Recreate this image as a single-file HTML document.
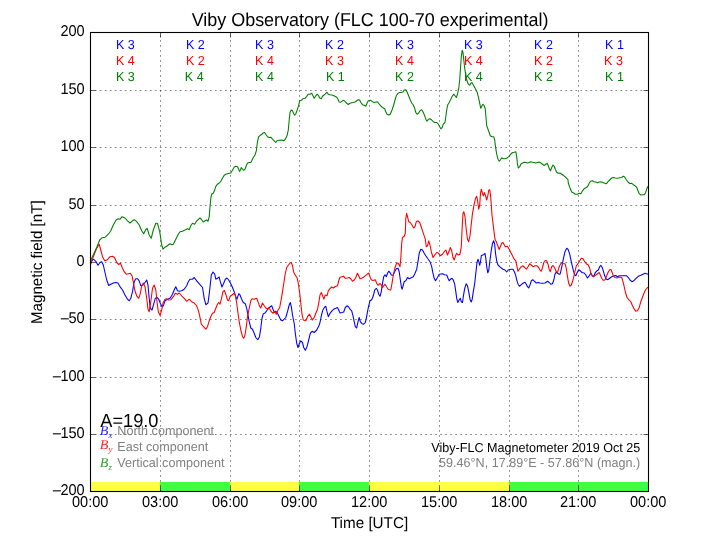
<!DOCTYPE html>
<html lang="en"><head><meta charset="utf-8"><title>Viby Observatory (FLC 100-70 experimental)</title>
<style>html,body{margin:0;padding:0;background:#fff}body{width:720px;height:540px;overflow:hidden}svg{display:block}text{font-family:"Liberation Sans",Arial,Helvetica,sans-serif;fill:#000;text-rendering:geometricPrecision}.m{font-family:"Liberation Serif","DejaVu Serif",serif;font-style:italic}</style></head><body>
<svg width="720" height="540" viewBox="0 0 720 540">
<rect width="720" height="540" fill="#fff"/>
<g shape-rendering="crispEdges">
<rect x="90.0" y="482" width="70.0" height="9.5" fill="#ffff40"/>
<rect x="160.0" y="482" width="70.0" height="9.5" fill="#40ff40"/>
<rect x="230.0" y="482" width="69.0" height="9.5" fill="#ffff40"/>
<rect x="299.0" y="482" width="70.0" height="9.5" fill="#40ff40"/>
<rect x="369.0" y="482" width="70.0" height="9.5" fill="#ffff40"/>
<rect x="439.0" y="482" width="70.0" height="9.5" fill="#ffff40"/>
<rect x="509.0" y="482" width="69.0" height="9.5" fill="#40ff40"/>
<rect x="578.0" y="482" width="70.0" height="9.5" fill="#40ff40"/>
</g>
<g stroke="#000" stroke-width="0.48" fill="none">
<g stroke-dasharray="1.7 3.3">
<line x1="160.5" y1="491.8" x2="160.5" y2="32.5"/>
<line x1="230.5" y1="491.8" x2="230.5" y2="32.5"/>
<line x1="299.5" y1="491.8" x2="299.5" y2="32.5"/>
<line x1="369.5" y1="491.8" x2="369.5" y2="32.5"/>
<line x1="439.5" y1="491.8" x2="439.5" y2="32.5"/>
<line x1="509.5" y1="491.8" x2="509.5" y2="32.5"/>
<line x1="578.5" y1="491.8" x2="578.5" y2="32.5"/>
</g><g stroke-dasharray="1.7 3.306">
<line x1="89.8" y1="90.5" x2="648.5" y2="90.5"/>
<line x1="89.8" y1="147.5" x2="648.5" y2="147.5"/>
<line x1="89.8" y1="205.5" x2="648.5" y2="205.5"/>
<line x1="89.8" y1="262.5" x2="648.5" y2="262.5"/>
<line x1="89.8" y1="319.5" x2="648.5" y2="319.5"/>
<line x1="89.8" y1="377.5" x2="648.5" y2="377.5"/>
<line x1="89.8" y1="434.5" x2="648.5" y2="434.5"/>
</g></g>
<g fill="none" stroke-width="1.08" stroke-linejoin="round" stroke-linecap="butt">
<path stroke="#0000ff" d="M90.5,262.5 L93.3,259.2 L95.8,261.3 L98.0,265.3 L100.0,262.5 L101.7,261.7 L103.3,265.0 L105.0,272.5 L106.7,280.0 L108.7,285.5 L110.8,284.2 L113.3,283.0 L115.8,282.5 L118.0,283.0 L120.0,286.7 L122.5,290.0 L125.0,295.0 L127.5,299.2 L129.2,300.8 L130.8,298.3 L132.5,291.7 L134.2,281.7 L135.8,278.7 L137.5,278.7 L139.2,280.8 L140.8,285.8 L143.0,285.0 L145.0,282.5 L146.7,280.0 L148.0,285.0 L149.2,298.3 L150.3,308.3 L152.0,310.0 L153.7,304.2 L155.3,298.3 L157.0,297.5 L158.7,299.2 L160.3,303.3 L162.0,306.7 L163.3,305.8 L165.0,300.8 L167.5,299.2 L170.0,298.3 L172.5,294.2 L174.5,289.2 L175.8,286.7 L177.5,290.8 L179.2,291.3 L181.7,290.8 L184.2,289.2 L186.7,285.8 L188.3,281.7 L190.0,279.2 L192.5,279.2 L194.2,277.5 L196.7,280.8 L200.0,284.7 L202.5,287.5 L204.2,298.3 L205.8,304.7 L208.0,303.0 L209.7,290.0 L211.3,275.0 L213.0,272.0 L214.7,274.2 L215.8,279.2 L217.5,278.3 L219.2,277.0 L220.3,281.7 L222.0,287.0 L223.7,283.3 L225.3,279.2 L227.0,278.0 L228.7,280.0 L230.8,283.7 L232.5,287.5 L234.2,291.7 L235.8,296.7 L237.0,299.2 L238.7,293.7 L240.0,295.0 L241.7,299.2 L243.3,302.5 L245.3,303.7 L246.7,308.3 L248.0,315.0 L249.2,321.7 L250.8,328.0 L252.5,329.2 L254.2,333.3 L255.8,337.5 L257.8,339.7 L259.5,336.7 L260.8,328.3 L262.0,318.3 L263.3,313.7 L265.0,313.0 L266.7,310.8 L268.3,308.0 L270.0,307.0 L271.7,305.8 L273.0,309.2 L274.2,311.7 L275.8,311.3 L277.5,313.3 L279.2,316.7 L280.8,320.0 L282.5,320.8 L284.2,319.2 L285.8,317.5 L287.5,311.7 L289.2,305.0 L290.3,302.5 L291.3,306.7 L292.5,315.0 L294.2,323.3 L295.3,333.3 L296.7,343.3 L298.0,347.5 L299.5,343.3 L300.8,340.8 L302.5,342.5 L303.7,347.5 L305.3,350.3 L307.0,346.7 L308.7,340.0 L310.3,333.3 L312.0,331.3 L314.2,332.5 L316.7,330.0 L318.7,326.3 L320.0,322.5 L320.5,320.0 L321.7,314.2 L323.0,309.7 L324.7,307.0 L325.8,306.3 L327.0,311.7 L328.3,316.7 L330.0,313.3 L332.0,310.8 L333.7,309.2 L335.8,308.3 L337.5,307.5 L338.7,310.0 L340.0,313.0 L342.0,312.5 L343.7,312.0 L345.3,307.5 L347.0,305.8 L348.7,307.0 L350.0,309.2 L351.7,310.8 L353.0,315.8 L354.2,321.7 L355.3,326.7 L356.7,328.0 L358.0,321.7 L359.2,317.5 L360.3,321.7 L362.0,323.7 L363.7,324.2 L365.3,322.5 L366.3,318.3 L367.5,311.7 L368.7,305.8 L370.0,300.8 L371.7,299.7 L373.3,295.8 L374.7,290.0 L376.3,288.3 L377.5,290.0 L378.7,294.2 L380.0,296.3 L381.3,291.7 L382.5,283.3 L383.7,276.7 L385.0,274.7 L386.3,276.7 L387.5,273.3 L388.7,271.2 L390.0,272.5 L391.3,275.0 L393.0,275.3 L394.7,271.7 L396.3,268.7 L398.0,268.3 L399.2,271.7 L400.0,277.5 L401.3,286.7 L402.2,289.2 L403.3,285.0 L404.2,281.7 L405.8,280.8 L407.5,277.5 L409.2,278.7 L411.7,277.5 L413.3,276.7 L415.0,273.3 L416.7,269.2 L418.0,261.7 L419.2,253.3 L420.8,249.2 L422.5,250.0 L424.2,253.3 L425.8,255.8 L427.5,258.3 L430.0,261.7 L431.7,266.7 L433.0,273.3 L434.2,278.3 L435.5,280.8 L437.5,277.5 L439.2,274.2 L442.5,273.7 L444.7,274.7 L446.7,275.0 L448.0,278.3 L449.2,280.8 L450.5,279.2 L452.0,278.3 L453.3,280.0 L454.7,284.2 L455.8,291.7 L456.7,298.3 L457.8,302.5 L459.2,300.0 L460.3,298.3 L461.3,301.7 L462.5,302.5 L463.3,296.7 L464.7,288.3 L466.2,283.7 L467.5,285.8 L468.7,291.7 L470.0,299.2 L471.2,302.0 L472.2,299.2 L473.3,291.7 L474.7,283.3 L475.8,273.3 L477.0,262.5 L478.0,259.2 L478.8,261.7 L479.7,265.3 L480.5,261.7 L481.3,255.8 L482.5,255.0 L483.7,254.7 L485.0,253.3 L485.8,258.3 L486.7,266.7 L487.8,272.8 L488.8,270.0 L490.0,260.0 L491.2,250.8 L492.5,243.3 L493.7,240.8 L494.7,244.2 L495.5,253.3 L496.7,260.8 L498.0,265.0 L499.7,266.7 L501.3,268.0 L503.0,269.2 L505.0,270.0 L506.7,272.0 L508.3,270.0 L510.8,269.2 L513.0,269.2 L514.7,272.5 L515.8,275.8 L517.0,280.8 L518.3,284.7 L519.5,286.3 L521.3,284.7 L523.3,283.0 L525.0,282.2 L526.3,284.2 L527.5,286.7 L528.7,288.0 L530.0,285.0 L531.3,280.8 L532.8,279.7 L534.5,281.3 L536.3,283.0 L538.3,282.5 L540.0,283.0 L542.5,283.3 L545.0,283.0 L547.5,281.3 L549.2,282.5 L550.8,284.2 L552.5,283.7 L553.8,280.0 L555.0,274.2 L556.2,272.0 L557.5,273.3 L559.2,274.2 L560.0,274.2 L560.5,272.5 L562.0,265.8 L563.3,259.2 L565.0,251.7 L566.7,248.3 L568.0,249.2 L569.7,254.2 L571.3,261.7 L573.0,269.2 L574.7,275.0 L575.8,275.8 L577.2,272.5 L578.7,269.7 L580.3,270.8 L582.0,272.5 L584.2,273.0 L585.8,275.0 L587.5,278.0 L589.2,275.8 L590.8,273.3 L592.5,275.8 L593.7,276.7 L595.3,272.5 L597.0,270.8 L598.3,270.0 L599.7,266.7 L600.8,265.3 L602.2,267.5 L603.3,270.8 L604.7,275.8 L606.3,279.2 L608.0,279.7 L610.0,278.0 L611.7,276.7 L614.2,275.8 L615.8,275.5 L617.5,276.7 L619.2,275.8 L621.7,275.8 L624.2,275.8 L626.7,275.8 L628.3,277.5 L630.0,280.0 L632.0,281.7 L633.7,280.8 L635.8,278.7 L638.3,276.3 L640.8,275.3 L643.0,274.2 L645.0,273.3 L648.0,274.2"/>
<path stroke="#ff0000" d="M90.5,265.0 L93.3,256.7 L96.7,248.3 L99.2,244.2 L100.8,250.0 L102.5,256.7 L104.7,260.8 L107.5,259.7 L110.0,256.7 L112.5,256.3 L114.5,257.5 L116.7,262.5 L118.7,264.5 L120.5,263.3 L122.2,267.5 L124.2,271.7 L126.2,274.2 L128.3,273.8 L130.3,273.3 L132.0,275.8 L133.3,281.7 L134.7,290.0 L136.7,295.8 L138.7,298.3 L140.3,293.3 L141.7,285.8 L143.3,283.0 L145.0,286.7 L146.7,298.3 L148.0,309.2 L149.2,311.7 L150.8,301.7 L152.5,288.3 L154.2,285.0 L155.8,290.0 L157.0,301.7 L158.3,311.7 L160.0,315.3 L161.7,310.0 L163.0,303.3 L165.0,299.2 L166.7,298.7 L168.3,300.0 L170.8,299.7 L173.3,296.7 L175.3,293.3 L177.5,294.2 L179.2,293.0 L181.7,295.8 L184.2,298.3 L186.7,301.3 L189.2,299.2 L191.7,301.7 L194.2,303.0 L196.7,305.8 L198.7,311.7 L200.0,317.5 L201.3,324.2 L203.3,326.3 L205.8,329.2 L207.5,326.7 L209.2,320.8 L210.8,316.7 L212.5,313.3 L214.2,312.5 L215.8,308.3 L217.5,304.2 L218.7,302.5 L220.0,304.2 L221.3,299.2 L223.0,291.7 L224.3,290.3 L225.8,294.2 L227.5,300.0 L228.7,300.8 L230.0,296.7 L232.0,295.0 L234.2,293.3 L235.5,295.8 L236.7,303.3 L238.0,313.3 L239.2,321.7 L240.8,330.0 L242.5,336.7 L243.7,338.3 L245.0,335.0 L246.3,326.7 L247.5,316.7 L249.2,308.3 L250.8,300.8 L252.0,298.8 L254.2,299.2 L256.7,298.3 L258.0,301.7 L259.7,306.7 L260.8,308.0 L262.5,303.0 L264.2,305.8 L265.8,308.0 L267.5,308.7 L269.7,308.7 L271.3,311.7 L273.0,313.3 L274.7,311.3 L276.3,314.2 L278.0,310.0 L279.7,307.5 L281.7,296.7 L283.3,286.7 L285.0,275.0 L286.7,267.5 L288.3,265.3 L290.0,263.0 L291.3,262.5 L292.5,265.8 L293.8,272.5 L295.3,275.3 L297.0,277.5 L298.3,283.3 L299.7,293.3 L300.8,303.3 L302.0,314.2 L303.3,320.0 L305.8,320.8 L307.5,316.7 L309.5,314.2 L310.8,316.7 L312.5,320.0 L314.2,317.5 L315.8,313.3 L317.5,309.2 L318.7,303.3 L320.0,295.0 L321.3,292.5 L322.7,295.8 L323.8,299.2 L325.3,295.0 L327.0,295.8 L328.3,290.8 L330.0,288.7 L331.7,287.0 L333.3,288.0 L335.0,286.7 L337.5,285.8 L338.7,280.8 L340.0,277.2 L342.0,276.7 L343.7,276.3 L345.3,278.3 L347.5,278.0 L349.2,277.5 L350.8,278.7 L352.5,281.2 L354.2,280.0 L355.8,277.5 L357.5,273.3 L358.7,275.8 L360.0,278.7 L361.7,278.3 L364.2,276.7 L366.7,274.7 L368.8,273.0 L370.0,276.7 L371.3,279.7 L373.0,280.5 L375.3,279.7 L376.7,283.3 L378.0,285.3 L380.0,283.3 L381.3,285.0 L382.5,287.5 L383.7,285.8 L385.0,284.2 L386.7,287.0 L388.3,289.5 L390.8,290.0 L392.0,283.3 L393.3,275.0 L395.0,267.5 L396.7,263.0 L398.3,263.3 L400.0,266.7 L400.8,258.3 L401.7,243.3 L402.5,237.5 L404.2,236.3 L405.3,233.3 L405.8,218.3 L406.7,213.3 L407.5,216.7 L408.7,221.7 L410.3,222.5 L412.0,225.0 L413.7,228.0 L415.0,226.7 L416.3,221.7 L418.0,220.8 L419.7,222.5 L421.2,226.7 L422.5,230.8 L424.2,235.8 L425.3,239.2 L426.3,246.7 L427.5,245.8 L428.7,240.8 L430.0,245.0 L431.3,251.7 L433.0,257.5 L434.7,255.0 L436.7,252.5 L438.7,253.3 L440.3,255.8 L442.5,254.2 L444.2,251.7 L445.8,250.0 L447.5,255.0 L449.2,250.8 L450.3,247.5 L451.7,250.8 L453.0,257.5 L454.2,260.0 L455.5,255.8 L456.7,253.3 L458.3,255.0 L460.0,254.2 L461.3,246.7 L462.2,226.7 L463.0,213.3 L463.8,211.7 L465.0,216.7 L466.3,230.0 L467.5,239.2 L468.7,241.7 L470.0,235.8 L471.2,225.0 L472.5,213.3 L474.2,204.2 L475.5,198.3 L476.7,196.3 L477.7,201.7 L478.7,209.2 L479.7,205.0 L480.5,193.3 L481.3,189.2 L482.5,193.3 L483.3,195.8 L484.3,192.5 L485.3,195.0 L486.7,200.0 L487.8,195.8 L488.8,190.0 L489.7,189.7 L490.5,195.0 L491.3,205.0 L492.0,215.0 L493.0,223.3 L494.2,233.3 L495.0,239.2 L496.3,241.7 L497.5,245.0 L499.2,249.5 L500.3,246.7 L501.7,243.3 L503.0,242.5 L504.2,244.7 L505.3,246.7 L507.5,246.3 L509.2,249.2 L510.8,252.5 L512.5,255.8 L514.2,259.2 L515.8,260.8 L517.0,266.7 L518.0,271.3 L519.7,268.7 L521.3,266.7 L523.0,265.8 L524.7,267.5 L526.3,269.2 L528.0,266.7 L529.7,263.8 L531.3,265.0 L533.0,266.7 L535.0,265.8 L537.0,265.8 L538.7,267.5 L540.0,270.0 L541.2,271.3 L542.5,267.5 L543.8,262.5 L545.3,260.5 L546.7,260.8 L548.0,264.2 L549.2,269.2 L550.3,271.7 L551.7,266.7 L553.0,265.5 L554.7,268.0 L556.3,271.7 L557.5,272.5 L558.7,268.3 L560.0,265.0 L561.3,263.0 L563.0,263.7 L565.0,263.7 L566.3,268.3 L567.5,276.7 L568.7,283.3 L570.0,286.2 L571.3,285.0 L573.0,280.0 L574.7,272.5 L576.3,265.8 L578.0,263.7 L579.7,260.8 L581.3,258.3 L583.0,258.8 L584.7,261.7 L586.3,263.7 L588.3,265.0 L589.7,268.3 L590.8,273.3 L592.0,275.8 L593.7,276.3 L595.8,275.0 L597.5,273.7 L599.2,272.5 L600.3,275.0 L601.7,278.3 L603.0,280.3 L605.0,280.0 L606.3,276.7 L608.0,272.5 L609.7,269.7 L611.0,269.5 L612.2,272.5 L613.3,275.8 L615.0,277.5 L617.0,278.0 L619.2,277.0 L621.7,277.5 L622.8,280.8 L624.2,286.7 L625.5,292.5 L627.0,297.5 L628.7,299.7 L630.8,301.7 L632.5,305.8 L634.2,309.2 L635.8,311.2 L637.5,310.8 L639.2,307.5 L640.8,301.7 L643.0,295.8 L645.0,290.8 L646.7,288.3 L648.0,287.2"/>
<path stroke="#008000" d="M90.5,262.0 L91.0,259.7 L96.7,247.5 L99.7,240.0 L102.2,237.7 L105.0,237.3 L108.3,234.2 L110.8,230.8 L113.3,225.0 L116.3,219.7 L118.3,218.7 L120.0,219.3 L122.0,216.7 L125.0,218.0 L127.5,220.8 L130.0,223.0 L132.5,220.8 L134.2,219.7 L136.7,221.7 L139.2,225.0 L141.7,230.8 L143.7,233.7 L145.5,230.0 L147.2,228.3 L149.2,235.0 L151.2,238.3 L153.3,230.0 L155.8,223.3 L157.5,223.3 L159.7,231.7 L161.7,245.0 L163.0,249.2 L165.0,247.2 L166.7,246.2 L168.3,245.0 L170.0,243.7 L172.0,244.7 L173.3,244.2 L175.8,239.2 L178.3,234.2 L180.0,231.7 L182.5,231.2 L185.0,230.0 L187.5,228.7 L189.2,229.7 L190.8,225.8 L192.5,223.3 L194.7,224.2 L196.7,220.8 L200.0,218.0 L201.7,219.7 L203.3,222.0 L205.0,220.8 L206.7,220.0 L208.0,221.3 L209.2,216.7 L210.0,206.7 L210.8,198.3 L211.7,194.2 L213.3,193.3 L214.7,190.0 L215.8,186.3 L217.5,184.2 L219.2,183.0 L220.8,181.3 L222.5,178.3 L224.2,175.3 L225.8,174.2 L227.5,173.7 L229.2,173.3 L230.8,173.0 L232.5,170.3 L234.2,167.0 L235.8,166.3 L237.5,166.7 L238.3,168.3 L239.5,171.3 L240.5,170.0 L241.3,167.5 L242.5,169.2 L243.7,170.3 L245.0,169.2 L246.3,165.8 L247.5,163.0 L249.2,162.5 L250.8,162.5 L252.0,160.3 L253.3,157.5 L255.0,155.0 L256.3,150.8 L257.5,141.7 L258.7,136.7 L260.3,135.3 L262.0,134.2 L263.3,132.8 L264.7,132.5 L265.8,134.2 L267.5,136.7 L269.2,137.5 L270.8,137.2 L272.5,139.2 L274.2,140.8 L275.8,142.5 L277.0,140.8 L279.2,140.3 L281.7,140.0 L283.8,140.8 L285.3,139.2 L287.0,135.8 L288.3,130.0 L289.2,120.0 L290.0,112.5 L291.2,110.0 L292.5,110.8 L293.7,113.7 L294.7,115.3 L295.8,113.7 L297.2,110.0 L298.3,106.7 L299.7,100.8 L301.3,100.3 L303.0,98.7 L305.0,98.3 L306.7,96.3 L308.3,94.2 L310.0,94.2 L311.7,93.3 L313.0,95.8 L314.2,98.3 L315.8,95.8 L317.2,94.2 L318.3,95.3 L319.7,98.0 L321.3,98.7 L322.5,96.3 L324.2,95.0 L325.8,93.3 L327.0,92.2 L328.3,94.2 L330.0,94.7 L331.7,95.0 L333.3,95.5 L335.0,96.3 L336.7,97.2 L338.0,99.2 L339.2,102.0 L340.8,102.2 L342.5,100.8 L343.8,100.3 L345.0,101.3 L346.7,103.3 L348.3,104.5 L350.0,103.3 L351.7,102.8 L353.3,102.5 L355.0,102.0 L356.7,100.8 L358.3,99.7 L359.7,100.0 L360.8,102.5 L362.5,104.7 L364.2,105.3 L365.8,106.3 L367.0,103.3 L368.3,100.8 L370.0,100.5 L370.8,100.3 L372.5,101.7 L374.2,102.5 L375.8,102.0 L377.5,101.7 L379.2,104.2 L380.8,105.8 L382.5,107.5 L384.7,108.7 L385.8,111.7 L387.0,114.2 L388.7,115.0 L390.3,114.2 L392.0,110.0 L393.7,105.0 L395.0,100.0 L396.3,95.8 L398.0,93.3 L399.7,92.5 L401.3,92.5 L403.0,92.0 L404.2,90.0 L405.8,89.7 L407.0,91.7 L408.3,95.0 L410.0,99.2 L411.7,103.0 L413.3,105.0 L414.7,108.3 L415.8,112.5 L417.0,114.2 L418.7,113.0 L420.0,110.8 L421.7,109.7 L423.0,111.7 L424.7,115.8 L425.8,119.2 L427.0,121.3 L428.3,119.2 L430.0,118.7 L431.7,120.0 L433.3,121.7 L435.0,122.5 L436.7,122.5 L438.3,124.2 L439.7,126.7 L440.8,128.8 L442.2,127.5 L443.3,124.2 L445.0,122.5 L445.8,116.7 L446.7,110.0 L447.8,104.7 L449.2,102.5 L450.8,99.2 L452.5,95.8 L453.8,94.2 L455.0,95.8 L456.3,97.5 L457.5,94.2 L458.7,88.3 L459.7,80.0 L460.5,68.3 L461.3,56.7 L462.2,50.3 L463.0,52.5 L463.8,60.0 L464.7,68.3 L465.8,75.0 L467.0,80.8 L468.3,84.2 L469.7,85.3 L470.8,83.3 L472.0,82.5 L473.3,85.0 L475.0,88.0 L476.3,90.3 L477.5,93.3 L478.7,98.3 L479.7,103.3 L480.8,108.3 L482.0,105.8 L483.0,104.2 L484.2,105.8 L485.3,109.2 L486.7,125.8 L488.0,129.2 L489.2,132.5 L490.3,135.8 L492.0,136.7 L493.7,136.7 L494.7,140.0 L495.5,146.7 L496.7,154.2 L498.0,159.2 L499.2,161.3 L500.3,160.0 L501.7,157.8 L503.3,158.7 L505.0,158.8 L506.7,158.3 L508.7,156.7 L510.8,154.2 L512.5,152.5 L514.2,152.2 L515.8,151.7 L516.7,156.7 L517.5,164.2 L518.3,168.0 L519.7,166.7 L520.8,164.2 L522.5,163.0 L524.2,162.2 L525.8,162.5 L527.5,163.0 L529.2,162.5 L530.8,161.7 L532.5,162.2 L534.2,162.5 L535.8,163.0 L537.5,162.5 L539.2,162.0 L540.8,163.0 L542.5,164.2 L544.2,165.5 L545.8,164.2 L547.2,163.3 L548.3,165.8 L549.5,169.2 L550.5,170.8 L551.7,167.5 L553.0,165.0 L554.2,166.3 L555.3,169.2 L556.7,172.2 L558.3,173.3 L560.0,173.0 L561.7,174.2 L563.3,175.3 L565.0,176.7 L566.7,178.3 L568.0,179.7 L568.3,183.0 L570.0,188.0 L571.7,192.0 L573.7,193.0 L575.3,194.2 L577.5,194.2 L579.2,193.3 L580.8,193.7 L582.5,190.8 L584.2,188.7 L585.8,187.8 L587.5,186.7 L589.2,183.3 L590.5,181.2 L592.5,180.8 L594.2,181.7 L595.8,182.0 L597.5,182.8 L599.2,182.0 L600.8,181.7 L603.0,182.5 L604.7,183.3 L606.3,183.8 L608.0,181.7 L609.7,180.0 L611.7,178.0 L613.3,177.5 L615.3,178.0 L617.5,178.3 L619.7,177.8 L621.7,177.5 L623.3,176.2 L624.7,177.0 L626.3,179.7 L628.0,182.0 L629.7,183.7 L631.7,183.3 L633.3,184.7 L635.0,185.8 L636.7,187.2 L638.0,190.8 L639.2,193.7 L640.8,195.0 L642.5,194.7 L644.2,194.7 L645.5,193.0 L646.7,189.2 L647.8,186.3"/>
</g>
<g stroke="#000" stroke-width="0.6" fill="none">
<line x1="160.5" y1="491.5" x2="160.5" y2="486.5"/><line x1="160.5" y1="32.5" x2="160.5" y2="37.5"/>
<line x1="230.5" y1="491.5" x2="230.5" y2="486.5"/><line x1="230.5" y1="32.5" x2="230.5" y2="37.5"/>
<line x1="299.5" y1="491.5" x2="299.5" y2="486.5"/><line x1="299.5" y1="32.5" x2="299.5" y2="37.5"/>
<line x1="369.5" y1="491.5" x2="369.5" y2="486.5"/><line x1="369.5" y1="32.5" x2="369.5" y2="37.5"/>
<line x1="439.5" y1="491.5" x2="439.5" y2="486.5"/><line x1="439.5" y1="32.5" x2="439.5" y2="37.5"/>
<line x1="509.5" y1="491.5" x2="509.5" y2="486.5"/><line x1="509.5" y1="32.5" x2="509.5" y2="37.5"/>
<line x1="578.5" y1="491.5" x2="578.5" y2="486.5"/><line x1="578.5" y1="32.5" x2="578.5" y2="37.5"/>
<line x1="90.5" y1="90.5" x2="95.5" y2="90.5"/><line x1="648.5" y1="90.5" x2="643.5" y2="90.5"/>
<line x1="90.5" y1="147.5" x2="95.5" y2="147.5"/><line x1="648.5" y1="147.5" x2="643.5" y2="147.5"/>
<line x1="90.5" y1="205.5" x2="95.5" y2="205.5"/><line x1="648.5" y1="205.5" x2="643.5" y2="205.5"/>
<line x1="90.5" y1="262.5" x2="95.5" y2="262.5"/><line x1="648.5" y1="262.5" x2="643.5" y2="262.5"/>
<line x1="90.5" y1="319.5" x2="95.5" y2="319.5"/><line x1="648.5" y1="319.5" x2="643.5" y2="319.5"/>
<line x1="90.5" y1="377.5" x2="95.5" y2="377.5"/><line x1="648.5" y1="377.5" x2="643.5" y2="377.5"/>
<line x1="90.5" y1="434.5" x2="95.5" y2="434.5"/><line x1="648.5" y1="434.5" x2="643.5" y2="434.5"/>
</g>
<rect x="90.5" y="32.5" width="558.0" height="459.0" fill="none" stroke="#000" stroke-width="1.1"/>
<text transform="translate(370.00,26.40) scale(0.997,1.04)" font-size="18" text-anchor="middle">Viby Observatory (FLC 100-70 experimental)</text>
<text transform="translate(84.70,36.00) scale(0.97,1.04)" font-size="15" text-anchor="end">200</text>
<text transform="translate(84.70,94.00) scale(0.97,1.04)" font-size="15" text-anchor="end">150</text>
<text transform="translate(84.70,151.00) scale(0.97,1.04)" font-size="15" text-anchor="end">100</text>
<text transform="translate(84.70,209.00) scale(0.97,1.04)" font-size="15" text-anchor="end">50</text>
<text transform="translate(84.70,266.00) scale(0.97,1.04)" font-size="15" text-anchor="end">0</text>
<text transform="translate(84.70,323.00) scale(0.97,1.04)" font-size="15" text-anchor="end"><tspan dy="1" textLength="10" lengthAdjust="spacingAndGlyphs">−</tspan><tspan dy="-1" dx="-1.2">50</tspan></text>
<text transform="translate(84.70,381.00) scale(0.97,1.04)" font-size="15" text-anchor="end"><tspan dy="1" textLength="10" lengthAdjust="spacingAndGlyphs">−</tspan><tspan dy="-1" dx="-1.2">100</tspan></text>
<text transform="translate(84.70,438.00) scale(0.97,1.04)" font-size="15" text-anchor="end"><tspan dy="1" textLength="10" lengthAdjust="spacingAndGlyphs">−</tspan><tspan dy="-1" dx="-1.2">150</tspan></text>
<text transform="translate(84.70,495.00) scale(0.97,1.04)" font-size="15" text-anchor="end"><tspan dy="1" textLength="10" lengthAdjust="spacingAndGlyphs">−</tspan><tspan dy="-1" dx="-1.2">200</tspan></text>
<text transform="translate(90.20,507.00) scale(0.97,1.04)" font-size="15" text-anchor="middle">00:00</text>
<text transform="translate(160.20,507.00) scale(0.97,1.04)" font-size="15" text-anchor="middle">03:00</text>
<text transform="translate(230.20,507.00) scale(0.97,1.04)" font-size="15" text-anchor="middle">06:00</text>
<text transform="translate(299.20,507.00) scale(0.97,1.04)" font-size="15" text-anchor="middle">09:00</text>
<text transform="translate(369.20,507.00) scale(0.97,1.04)" font-size="15" text-anchor="middle">12:00</text>
<text transform="translate(439.20,507.00) scale(0.97,1.04)" font-size="15" text-anchor="middle">15:00</text>
<text transform="translate(509.20,507.00) scale(0.97,1.04)" font-size="15" text-anchor="middle">18:00</text>
<text transform="translate(578.20,507.00) scale(0.97,1.04)" font-size="15" text-anchor="middle">21:00</text>
<text transform="translate(648.20,507.00) scale(0.97,1.04)" font-size="15" text-anchor="middle">00:00</text>
<text transform="translate(369.50,527.50) scale(1.015,1.04)" font-size="15" text-anchor="middle">Time [UTC]</text>
<text transform="translate(41.80,262.20) rotate(-90) scale(1.01,1.04)" font-size="15" text-anchor="middle">Magnetic field [nT]</text>
<text transform="translate(125.33,48.50) scale(1.0,1.04)" font-size="12.5" text-anchor="middle" style="fill:#0000ff">K 3</text>
<text transform="translate(125.33,64.70) scale(1.0,1.04)" font-size="12.5" text-anchor="middle" style="fill:#ff0000">K 4</text>
<text transform="translate(125.33,80.50) scale(1.0,1.04)" font-size="12.5" text-anchor="middle" style="fill:#008000">K 3</text>
<text transform="translate(195.33,48.50) scale(1.0,1.04)" font-size="12.5" text-anchor="middle" style="fill:#0000ff">K 2</text>
<text transform="translate(195.33,64.70) scale(1.0,1.04)" font-size="12.5" text-anchor="middle" style="fill:#ff0000">K 2</text>
<text transform="translate(194.23,80.50) scale(1.0,1.04)" font-size="12.5" text-anchor="middle" style="fill:#008000">K 4</text>
<text transform="translate(264.44,48.50) scale(1.0,1.04)" font-size="12.5" text-anchor="middle" style="fill:#0000ff">K 3</text>
<text transform="translate(264.44,64.70) scale(1.0,1.04)" font-size="12.5" text-anchor="middle" style="fill:#ff0000">K 4</text>
<text transform="translate(264.44,80.50) scale(1.0,1.04)" font-size="12.5" text-anchor="middle" style="fill:#008000">K 4</text>
<text transform="translate(334.44,48.50) scale(1.0,1.04)" font-size="12.5" text-anchor="middle" style="fill:#0000ff">K 2</text>
<text transform="translate(334.44,64.70) scale(1.0,1.04)" font-size="12.5" text-anchor="middle" style="fill:#ff0000">K 3</text>
<text transform="translate(335.34,80.50) scale(1.0,1.04)" font-size="12.5" text-anchor="middle" style="fill:#008000">K 1</text>
<text transform="translate(404.44,48.50) scale(1.0,1.04)" font-size="12.5" text-anchor="middle" style="fill:#0000ff">K 3</text>
<text transform="translate(404.44,64.70) scale(1.0,1.04)" font-size="12.5" text-anchor="middle" style="fill:#ff0000">K 4</text>
<text transform="translate(404.44,80.50) scale(1.0,1.04)" font-size="12.5" text-anchor="middle" style="fill:#008000">K 2</text>
<text transform="translate(473.33,48.50) scale(1.0,1.04)" font-size="12.5" text-anchor="middle" style="fill:#0000ff">K 3</text>
<text transform="translate(473.33,64.70) scale(1.0,1.04)" font-size="12.5" text-anchor="middle" style="fill:#ff0000">K 4</text>
<text transform="translate(473.33,80.50) scale(1.0,1.04)" font-size="12.5" text-anchor="middle" style="fill:#008000">K 4</text>
<text transform="translate(543.44,48.50) scale(1.0,1.04)" font-size="12.5" text-anchor="middle" style="fill:#0000ff">K 2</text>
<text transform="translate(543.44,64.70) scale(1.0,1.04)" font-size="12.5" text-anchor="middle" style="fill:#ff0000">K 2</text>
<text transform="translate(543.44,80.50) scale(1.0,1.04)" font-size="12.5" text-anchor="middle" style="fill:#008000">K 2</text>
<text transform="translate(614.44,48.50) scale(1.0,1.04)" font-size="12.5" text-anchor="middle" style="fill:#0000ff">K 1</text>
<text transform="translate(613.44,64.70) scale(1.0,1.04)" font-size="12.5" text-anchor="middle" style="fill:#ff0000">K 3</text>
<text transform="translate(614.44,80.50) scale(1.0,1.04)" font-size="12.5" text-anchor="middle" style="fill:#008000">K 1</text>
<text class="m" transform="translate(99.80,435.20) scale(1.05,1.0)" font-size="13.5" style="fill:#0000ff" fill-opacity="0.85">B<tspan dy="2.8" font-size="8.5">x</tspan></text>
<text transform="translate(117.30,435.20) scale(1.008,1.04)" font-size="12.5" style="fill:#808080">North component</text>
<text class="m" transform="translate(99.80,449.10) scale(1.05,1.0)" font-size="13.5" style="fill:#ff0000" fill-opacity="0.85">B<tspan dy="2.8" font-size="8.5">y</tspan></text>
<text transform="translate(117.30,451.10) scale(1.008,1.04)" font-size="12.5" style="fill:#808080">East component</text>
<text class="m" transform="translate(99.80,467.30) scale(1.05,1.0)" font-size="13.5" style="fill:#109010" fill-opacity="0.85">B<tspan dy="2.8" font-size="8.5">z</tspan></text>
<text transform="translate(117.30,467.30) scale(1.008,1.04)" font-size="12.5" style="fill:#808080">Vertical component</text>
<text transform="translate(100.30,426.80) scale(1.0,1.04)" font-size="18.2">A=19.0</text>
<text transform="translate(640.30,451.50) scale(1.007,1.04)" font-size="12.5" text-anchor="end">Viby-FLC Magnetometer 2019 Oct 25</text>
<text transform="translate(640.30,467.40) scale(1.007,1.04)" font-size="12.5" text-anchor="end" style="fill:#808080">59.46°N, 17.89°E - 57.86°N (magn.)</text>
</svg></body></html>
